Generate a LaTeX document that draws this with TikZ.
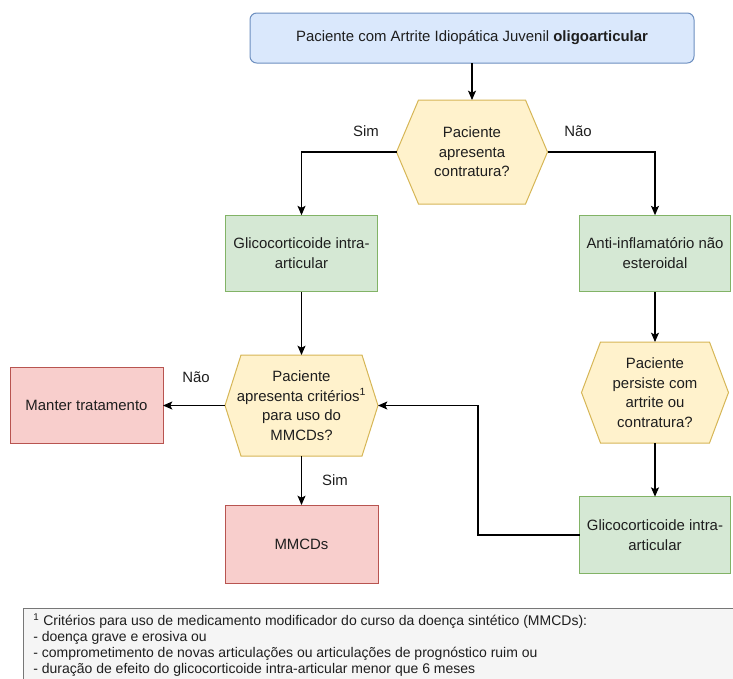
\documentclass[tikz,border=0pt]{standalone}
\usepackage{fontspec}
\setmainfont{Liberation Sans}
\usetikzlibrary{arrows.meta,backgrounds,calc}
\definecolor{bluefill}{HTML}{DAE8FC}
\definecolor{bluedraw}{HTML}{6C8EBF}
\definecolor{greenfill}{HTML}{D5E8D4}
\definecolor{greendraw}{HTML}{82B366}
\definecolor{redfill}{HTML}{F8CECC}
\definecolor{reddraw}{HTML}{B85450}
\definecolor{yellowfill}{HTML}{FFF2CC}
\definecolor{yellowdraw}{HTML}{D6B656}
\definecolor{footfill}{HTML}{F5F5F5}
\definecolor{footdraw}{HTML}{777777}
\definecolor{txt}{HTML}{1E1E1E}
\begin{document}
\begin{tikzpicture}[x=0.75pt,y=-0.75pt,
  base/.style={draw, line width=0.75pt, align=center, text=txt, font=\fontsize{11.2}{15}\selectfont, inner sep=2pt, outer sep=0pt},
  bluebox/.style={base, fill=bluefill, draw=bluedraw, rounded corners=5pt, minimum width=333pt, minimum height=37.5pt},
  greenbox/.style={base, fill=greenfill, draw=greendraw, minimum width=113pt, minimum height=57.5pt},
  redbox/.style={base, fill=redfill, draw=reddraw, minimum width=114.75pt, minimum height=57.5pt},
  hexbox/.style={align=center, text=txt, font=\fontsize{11.2}{14.6}\selectfont, inner sep=0pt, outer sep=0pt, minimum height=76pt},
  hexdraw/.style={fill=yellowfill, draw=yellowdraw, line width=0.75pt},
  arr/.style={draw=black, line width=0.8pt, -{Stealth[length=7pt,width=6pt,inset=1.5pt]}},
  lbl/.style={text=txt, font=\fontsize{11.2}{13}\selectfont, inner sep=0pt},
  notetext/.style={text=txt, font=\fontsize{10.5}{12}\selectfont, align=left, inner sep=0pt, anchor=north west},
]
\useasboundingbox (0,0) rectangle (733,679);
\clip (0,0) rectangle (733,679);

% boxes
\node[bluebox] (top) at (472,38) {Paciente com Artrite Idiopática Juvenil \textbf{oligoarticular}};
\node[hexbox, minimum width=113.25pt, minimum height=78pt] (h1) at (472,152) {Paciente\\apresenta\\contratura?};
\node[greenbox, minimum width=114pt] (gL) at (301.5,253.5) {Glicocorticoide intra-\\articular};
\node[greenbox] (gR) at (655,253.5) {Anti-inflamatório não\\esteroidal};
\node[hexbox, minimum width=114.75pt, minimum height=75.75pt] (h2) at (301.5,405.5) {Paciente\\apresenta critérios\textsuperscript{1}\\para uso do\\MMCDs?};
\node[redbox] (manter) at (86.5,405.5) {Manter tratamento};
\node[redbox, minimum height=58.5pt] (mm) at (301.5,544) {MMCDs};
\node[hexbox, minimum width=110.25pt, minimum height=75.75pt] (h3) at (655,392.5) {Paciente\\persiste com\\artrite ou\\contratura?};
\node[greenbox] (gR2) at (655,535) {Glicocorticoide intra-\\articular};

\begin{scope}[on background layer]
\draw[hexdraw] (h1.west) -- ([xshift=16.5pt]h1.north west) -- ([xshift=-16.5pt]h1.north east) -- (h1.east) -- ([xshift=-16.5pt]h1.south east) -- ([xshift=16.5pt]h1.south west) -- cycle;
\draw[hexdraw] (h2.west) -- ([xshift=12pt]h2.north west) -- ([xshift=-12pt]h2.north east) -- (h2.east) -- ([xshift=-12pt]h2.south east) -- ([xshift=12pt]h2.south west) -- cycle;
\draw[hexdraw] (h3.west) -- ([xshift=14.25pt]h3.north west) -- ([xshift=-14.25pt]h3.north east) -- (h3.east) -- ([xshift=-14.25pt]h3.south east) -- ([xshift=14.25pt]h3.south west) -- cycle;
\end{scope}

% connectors
\draw[arr] (top.south) -- (h1.north);
\draw[arr] (h1.west) -| (gL.north);
\draw[arr] (h1.east) -| (gR.north);
\draw[arr] (gL.south) -- (h2.north);
\draw[arr] (h2.west) -- (manter.east);
\draw[arr] (h2.south) -- (mm.north);
\draw[arr] (gR.south) -- (h3.north);
\draw[arr] (h3.south) -- (gR2.north);
\coordinate (bend) at (478,535);
\draw[arr] (gR2.west) -- (bend) |- (h2.east);

% labels
\node[lbl] (simA) at (366,131) {Sim};
\node[lbl] (naoA) at (578,131) {Não};
\node[lbl] (naoB) at (196,377) {Não};
\node[lbl] (simB) at (335,480) {Sim};

% footnote
\draw[fill=footfill, draw=footdraw, line width=0.75pt] (23,608) rectangle (760,700);
\node[notetext] (fn) at (33,613) {\textsuperscript{1} Critérios para uso de medicamento modificador do curso da doença sintético (MMCDs):\\- doença grave e erosiva ou\\- comprometimento de novas articulações ou articulações de prognóstico ruim ou\\- duração de efeito do glicocorticoide intra-articular menor que 6 meses};
\end{tikzpicture}
\end{document}
